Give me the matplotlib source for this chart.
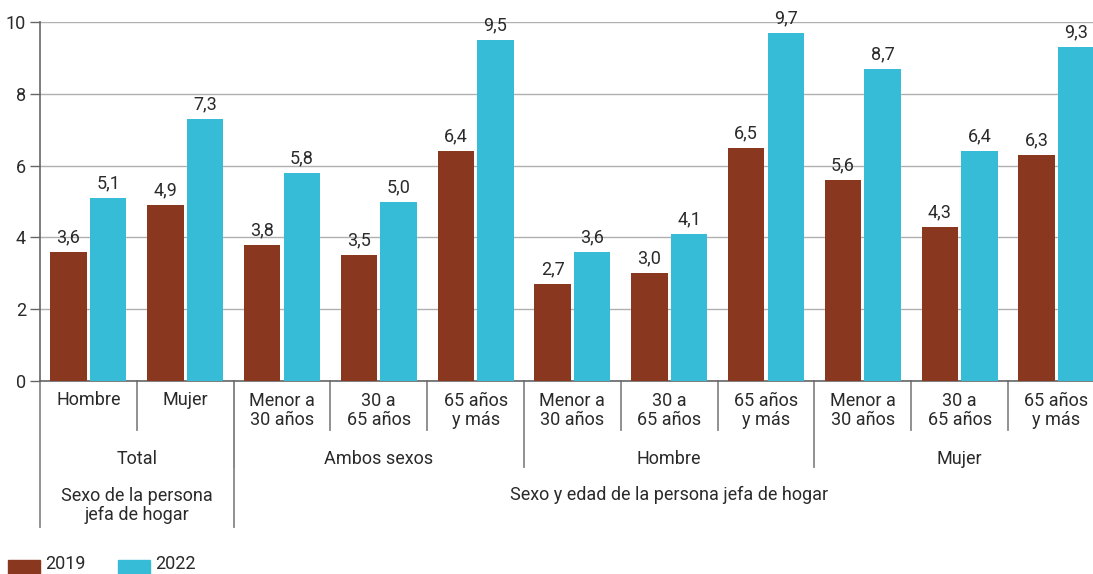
import matplotlib
matplotlib.use("Agg")
import matplotlib.pyplot as plt
import matplotlib.transforms as mtransforms
from matplotlib.patches import Rectangle
import numpy as np

plt.rcParams['font.family'] = ['Roboto', 'DejaVu Sans']

# Datos
categorias = ["Hombre", "Mujer",
              "Menor a\n30 años", "30 a\n65 años", "65 años\ny más",
              "Menor a\n30 años", "30 a\n65 años", "65 años\ny más",
              "Menor a\n30 años", "30 a\n65 años", "65 años\ny más"]
grupos = ["Total", "Ambos sexos", "Hombre", "Mujer"]
grupos_n = [2, 3, 3, 3]
niveles = ["Sexo de la persona\njefa de hogar", "Sexo y edad de la persona jefa de hogar"]
niveles_n = [2, 9]
v2019 = [3.6, 4.9, 3.8, 3.5, 6.4, 2.7, 3.0, 6.5, 5.6, 4.3, 6.3]
v2022 = [5.1, 7.3, 5.8, 5.0, 9.5, 3.6, 4.1, 9.7, 8.7, 6.4, 9.3]
series = ["2019", "2022"]

c19 = "#8a3720"
c22 = "#36bcd7"
gris = "#2a2a2a"
fs = 13

W, H = 1093, 574
fig = plt.figure(figsize=(W / 100, H / 100), dpi=100)
gw = 96.8  # ancho de grupo en px
ax = fig.add_axes([40 / W, 193 / H, 11 * gw / W, 359 / H])

x = np.arange(len(categorias))
b1 = ax.bar(x - 0.205, v2019, width=0.375, color=c19, zorder=3)
b2 = ax.bar(x + 0.205, v2022, width=0.375, color=c22, zorder=3)

for barras, vals in ((b1, v2019), (b2, v2022)):
    for r, v in zip(barras, vals):
        ax.annotate(f"{v:.1f}".replace(".", ","),
                    (r.get_x() + r.get_width() / 2, v),
                    xytext=(0, 4), textcoords="offset points",
                    ha="center", va="bottom", fontsize=fs, color=gris)

ax.set_xlim(-0.5, len(categorias) - 0.5)
ax.set_ylim(0, 10)
ax.set_yticks(range(0, 11, 2))
ax.tick_params(axis="y", length=7, width=1, color="#666666", labelsize=fs,
               labelcolor=gris, pad=3)
ax.set_xticks([])
ax.yaxis.grid(True, color="#b0b0b0", linewidth=1, zorder=0)
for s in ("top", "right"):
    ax.spines[s].set_visible(False)
ax.spines["left"].set_color("#666666")
ax.spines["bottom"].set_color("#666666")
ax.spines["left"].set_linewidth(1.2)
ax.spines["bottom"].set_linewidth(1.2)

# Etiquetas jerárquicas del eje x
trans = mtransforms.blended_transform_factory(ax.transData, ax.transAxes)
px = 1 / 359


def linea(xpos, largo):
    ax.plot([xpos, xpos], [0, -largo * px], color="#888888", lw=1.3,
            transform=trans, clip_on=False)


for i, c in enumerate(categorias):
    off = 29.5 if "\n" in c else 19
    ax.text(i, -off * px, c, transform=trans, ha="center", va="center",
            fontsize=fs, color=gris, linespacing=1.1)

inicio = 0
for g, n in zip(grupos, grupos_n):
    ax.text(inicio + (n - 1) / 2, -78 * px, g, transform=trans, ha="center",
            va="center", fontsize=fs, color=gris)
    for k in range(1, n):
        linea(inicio + k - 0.5, 49)
    if inicio > 0:
        linea(inicio - 0.5, 86)
    inicio += n

inicio = 0
for nv, n in zip(niveles, niveles_n):
    off = 124.5 if "\n" in nv else 114
    ax.text(inicio + (n - 1) / 2, -off * px, nv, transform=trans,
            ha="center", va="center", fontsize=fs, color=gris, linespacing=1.1)
    linea(inicio - 0.5, 146)
    inicio += n

# Leyenda
for xs, col, lab in ((8, c19, series[0]), (118, c22, series[1])):
    fig.add_artist(Rectangle((xs / W, 0), 32 / W, 14 / H, color=col,
                             transform=fig.transFigure))
    fig.text((xs + 37) / W, 10 / H, lab, ha="left", va="center",
             fontsize=fs, color=gris)

fig.savefig("out.png", dpi=100)
